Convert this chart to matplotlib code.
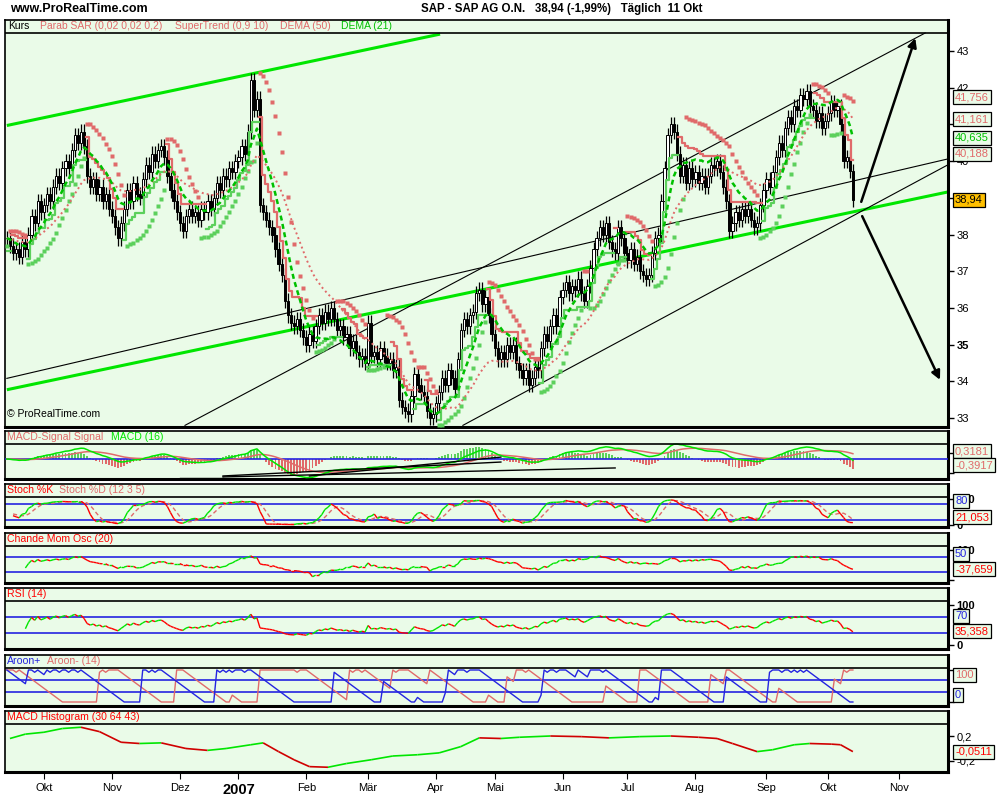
"""SAP daily chart with indicator panels, ProRealTime look."""

import matplotlib
matplotlib.use("Agg")
import matplotlib.pyplot as plt
import numpy as np
import pandas as pd
from matplotlib.collections import LineCollection

plt.rcParams["font.family"] = ["Liberation Sans", "DejaVu Sans"]

# daily closes
sep06 = [37.9, 37.7, 37.5, 37.6, 37.4, 37.8, 37.6, 38.0, 38.5, 38.3, 38.9, 38.6]
oct06 = [38.8, 39.1, 38.9, 39.3, 39.6, 39.4, 39.8, 40.0, 39.8, 40.3, 40.7, 40.5,
         40.8, 40.4, 39.6, 39.3, 39.5, 39.1, 39.3, 38.9, 39.1, 38.7]
nov06 = [38.5, 38.2, 37.9, 38.3, 38.7, 39.2, 38.9, 39.4, 39.1, 39.0, 39.5, 39.9,
         39.7, 40.2, 40.0, 40.3, 40.4, 40.1, 39.6, 39.2, 38.9, 38.6]
dec06 = [38.3, 38.1, 38.5, 38.7, 38.5, 38.6, 38.4, 38.7, 38.6, 38.9, 38.7, 39.0,
         39.4, 39.2, 39.6, 39.5, 39.8, 39.7, 40.0]
jan07 = [40.1, 40.4, 40.2, 40.8, 42.2, 41.4, 41.7, 38.8, 38.6, 38.4, 38.2, 38.0,
         37.6, 37.2, 36.9, 36.2, 35.8, 35.6, 35.5, 35.7, 35.4, 35.2]
feb07 = [35.0, 35.3, 35.1, 35.5, 35.8, 35.6, 35.9, 35.7, 36.0, 35.7, 35.4, 35.5,
         35.2, 35.3, 34.9, 35.1, 34.8, 34.6, 34.7, 34.5]
mar07 = [35.6, 34.7, 34.8, 34.6, 34.9, 34.7, 34.5, 34.6, 34.3, 34.4, 33.5, 33.3,
         33.2, 33.1, 33.6, 34.2, 33.9, 33.7, 33.6, 33.2, 33.0, 33.1]
apr07 = [33.4, 33.7, 34.1, 33.9, 34.3, 34.1, 33.8, 34.6, 35.4, 35.7, 35.5, 35.8,
         35.9, 36.4, 36.5, 36.1, 36.3, 35.8, 35.3]
may07 = [34.9, 34.6, 34.8, 34.6, 35.0, 34.8, 35.0, 34.5, 34.3, 34.1, 34.3, 33.9,
         34.1, 34.4, 34.3, 34.9, 35.3, 35.1, 35.5, 35.8, 35.5, 36.3]
jun07 = [36.5, 36.7, 36.4, 36.6, 36.5, 36.8, 36.4, 36.2, 36.6, 37.1, 37.6, 37.9,
         38.2, 38.0, 38.3, 37.8, 37.6, 37.5, 38.2, 37.9, 37.5]
jul07 = [37.3, 37.6, 37.2, 37.4, 37.0, 36.9, 36.8, 36.9, 37.5, 37.9, 38.0, 38.9,
         39.8, 40.7, 41.0, 40.8, 40.2, 39.6, 39.9, 39.4, 39.8, 39.5]
aug07 = [39.7, 39.4, 39.6, 39.3, 39.6, 39.9, 39.8, 40.0, 39.7, 39.3, 38.9, 38.1,
         38.3, 38.6, 38.4, 38.7, 38.5, 38.7, 38.4, 38.2, 38.3, 38.8, 39.2]
sep07 = [39.5, 39.3, 39.7, 40.1, 40.5, 40.3, 40.9, 41.2, 41.0, 41.5, 41.4, 41.8,
         41.7, 41.9, 41.5, 41.4, 41.1, 41.3, 40.9, 41.1]
oct07 = [41.3, 41.6, 41.4, 41.5, 41.0, 40.0, 40.1, 39.73, 38.94]

closes = (sep06 + oct06 + nov06 + dec06 + jan07 + feb07 + mar07 + apr07
          + may07 + jun07 + jul07 + aug07 + sep07 + oct07)
WICK = 0.2

holidays = ["2006-12-25", "2006-12-26", "2007-01-01", "2007-04-06",
            "2007-04-09", "2007-05-01"]
month_names = {1: "2007", 2: "Feb", 3: "Mär", 4: "Apr", 5: "Mai", 6: "Jun",
               7: "Jul", 8: "Aug", 9: "Sep", 10: "Okt", 11: "Nov", 12: "Dez"}

# MACD Histogram (30 64 43)
hist_idx = [1, 6, 12, 18, 24, 30, 37, 43, 50, 58, 65, 71, 79, 83, 88, 93, 98,
            104, 110, 118, 125, 133, 140, 147, 153, 160, 166, 176, 186, 195,
            205, 215, 224, 230, 235, 243, 248, 255, 260, 267, 270, 274]
hist_val = [0.16, 0.23, 0.26, 0.32, 0.34, 0.27, 0.10, 0.08, 0.09, 0.00, -0.03,
            0.00, 0.06, 0.09, -0.05, -0.18, -0.29, -0.30, -0.24, -0.18, -0.12,
            -0.10, -0.07, 0.03, 0.17, 0.16, 0.18, 0.20, 0.19, 0.17, 0.19, 0.20,
            0.18, 0.16, 0.08, -0.05, -0.02, 0.06, 0.08, 0.07, 0.06, -0.05]

# hand drawn lines on the price chart: (bar index, price)
green_lines = [[(0, 40.97), (140.3, 43.46)], [(0, 33.77), (304.8, 39.16)]]
black_lines = [[(0, 34.08), (304.8, 40.06)], [(57.7, 32.8), (297.4, 43.49)],
               [(147.7, 32.8), (304.8, 39.90)]]
arrows = [[(276.7, 38.89), (294.2, 43.35)], [(277.0, 38.50), (302.2, 34.04)]]
# hand drawn lines in the MACD panel: (bar index, value)
macd_lines = [[(56, -1.19), (70, -1.19)], [(70, -1.12), (197, -0.56)],
              [(70, -1.06), (160, -0.19)], [(98, -1.06), (160, 0.12)]]

W, H = 1000, 800
BG = "#eafbe8"
SALMON = "#e06a6a"
LGREEN = "#5cd05c"
RED = "#ff0000"
DRED = "#d00000"
BLUE = "#2424e0"
LIME = "#00e600"

c = pd.Series(closes, dtype=float)
n = len(c)
x = np.arange(n)
o = np.r_[c.iloc[0], c.values[:-1]]
hi = pd.Series(np.maximum(o, c.values) + WICK)
lo = pd.Series(np.minimum(o, c.values) - WICK)

alldays = pd.bdate_range("2006-09-14", "2007-11-30", freq="C", holidays=holidays)
mstart = [i for i in range(1, len(alldays)) if alldays[i].month != alldays[i - 1].month]


def ema(s, k):
    return s.ewm(span=k, adjust=False).mean()


def dema(s, k):
    e = ema(s, k)
    return 2 * e - ema(e, k)


def psar(h, l, af0=0.02, step=0.02, amax=0.2):
    h, l = np.asarray(h), np.asarray(l)
    sar = np.zeros(len(h))
    bull = np.ones(len(h), bool)
    up, af, ep = True, af0, h[0]
    sar[0] = l[0]
    for t in range(1, len(h)):
        s = sar[t - 1] + af * (ep - sar[t - 1])
        if up:
            s = min(s, l[t - 1], l[max(t - 2, 0)])
            if l[t] < s:
                up, s, ep, af = False, ep, l[t], af0
            elif h[t] > ep:
                ep, af = h[t], min(af + step, amax)
        else:
            s = max(s, h[t - 1], h[max(t - 2, 0)])
            if h[t] > s:
                up, s, ep, af = True, ep, h[t], af0
            elif l[t] < ep:
                ep, af = l[t], min(af + step, amax)
        sar[t], bull[t] = s, up
    return sar, bull


def supertrend(h, l, cl, mult, k):
    pc = cl.shift(1).fillna(cl.iloc[0])
    tr = pd.concat([h - l, (h - pc).abs(), (l - pc).abs()], axis=1).max(axis=1)
    atr = tr.ewm(alpha=1 / k, adjust=False).mean()
    mid = (h + l) / 2
    ub, lb = (mid + mult * atr).values, (mid - mult * atr).values
    cv = cl.values
    fu, fl = ub.copy(), lb.copy()
    trend = np.ones(len(cv), bool)
    for t in range(1, len(cv)):
        fu[t] = ub[t] if (ub[t] < fu[t - 1] or cv[t - 1] > fu[t - 1]) else fu[t - 1]
        fl[t] = lb[t] if (lb[t] > fl[t - 1] or cv[t - 1] < fl[t - 1]) else fl[t - 1]
        trend[t] = cv[t] >= fl[t] if trend[t - 1] else cv[t] > fu[t]
    return np.where(trend, fl, fu), trend


def trend_line(ax, xs, ys, lw=1.0, down=RED):
    pts = np.column_stack([xs, ys])
    segs = np.stack([pts[:-1], pts[1:]], axis=1)
    cols = np.where(np.diff(ys) >= 0, LIME, down)
    ax.add_collection(LineCollection(segs, colors=cols, linewidths=lw, zorder=3))


def panel(y0, y1, ya, va, yb, vb):
    ax = fig.add_axes([5 / W, 1 - y1 / H, 943 / W, (y1 - y0) / H])
    ax.set_facecolor(BG)
    k = (va - vb) / (ya - yb)
    ax.set_ylim(va + (y1 - ya) * k, va + (y0 - ya) * k)
    ax.axhline(va + (y0 + 13 - ya) * k, color="black", lw=1.2, zorder=6)
    ax.set_xlim(-0.6, 304.8)
    ax.set_xticks([])
    ax.yaxis.tick_right()
    ax.tick_params(axis="y", direction="out", length=4, width=1, labelsize=8, pad=2)
    for side in ("top", "left"):
        ax.spines[side].set_linewidth(1.2)
    for side in ("right", "bottom"):
        ax.spines[side].set_linewidth(2.2)
    return ax


def ftext(px, py, s, color="black", size=7.6, **kw):
    fig.text(px / W, 1 - py / H, s, color=color, fontsize=size, va="center", **kw)


def vbox(py, s, color, fc=BG):
    fig.text(955 / W, 1 - py / H, s, color=color, fontsize=8, va="center", ha="left",
             bbox=dict(boxstyle="square,pad=0.18", fc=fc, ec="black", lw=0.9))


fig = plt.figure(figsize=(W / 100, H / 100), dpi=100)

# ---- price panel
ax = panel(20, 427, 51, 43, 418, 33)
for (xa, pa), (xb, pb) in green_lines:
    ax.plot([xa, xb], [pa, pb], color=LIME, lw=2.2, zorder=2, solid_capstyle="butt")
for (xa, pa), (xb, pb) in black_lines:
    ax.plot([xa, xb], [pa, pb], color="black", lw=0.8, zorder=2)

upc = c.values >= o
ax.vlines(x, lo, hi, color="black", lw=0.9, zorder=3)
ax.bar(x[upc], (c.values - o)[upc], bottom=o[upc], width=0.75, color="white",
       edgecolor="black", lw=0.7, zorder=4)
ax.bar(x[~upc], (o - c.values)[~upc], bottom=c.values[~upc], width=0.75,
       color="black", edgecolor="black", lw=0.7, zorder=4)

sar, bull = psar(hi, lo)
ax.plot(x[bull], sar[bull], "s", ms=3.0, color=LGREEN, mec="none", zorder=5)
ax.plot(x[~bull], sar[~bull], "s", ms=3.0, color=SALMON, mec="none", zorder=5)

st, st_up = supertrend(hi, lo, c, 0.9, 10)
ax.plot(x, np.where(st_up, st, np.nan), color=LGREEN, lw=1.6, zorder=5,
        drawstyle="steps-mid")
ax.plot(x, np.where(~st_up, st, np.nan), color=SALMON, lw=1.6, zorder=5,
        drawstyle="steps-mid")
ax.plot(x, dema(c, 50), color=SALMON, lw=1.4, ls=(0, (1, 1.6)), zorder=5)
ax.plot(x, dema(c, 21), color="#00c000", lw=1.8, ls=(0, (2, 1.4)), zorder=5)

for (xa, pa), (xb, pb) in arrows:
    ax.annotate("", xy=(xb, pb), xytext=(xa, pa), zorder=7,
                arrowprops=dict(arrowstyle="-|>", color="black", lw=1.8,
                                mutation_scale=13, shrinkA=0, shrinkB=0))

ax.set_yticks(range(33, 44))
# labels under the value boxes (39, 41) are fully covered in the chart
ax.set_yticklabels(["" if v in (39, 41) else str(v) for v in range(33, 44)])
ax.get_yticklabels()[2].set_fontweight("bold")
ax.text(0.002, 0.02, "© ProRealTime.com", transform=ax.transAxes, fontsize=7.5,
        va="bottom", zorder=8)

# ---- MACD
axm = panel(431, 479, 459, 0, 443, 1.0)
macd = ema(c, 12) - ema(c, 26)
sig = ema(macd, 16)
dif = 1.5 * (macd - sig)
axm.bar(x, dif, width=0.6, color=np.where(dif >= 0, LGREEN, SALMON), zorder=2)
axm.axhline(0, color=BLUE, lw=1.2, zorder=3)
axm.plot(x, sig, color=SALMON, lw=1.1, zorder=4)
axm.plot(x, macd, color=LIME, lw=1.1, zorder=4)
for (xa, va), (xb, vb) in macd_lines:
    axm.plot([xa, xb], [va, vb], color="black", lw=1.0, zorder=5)
axm.set_yticks([0.4, -0.9])
axm.set_yticklabels(["", ""])

# ---- Stochastic
axs = panel(484, 527, 504, 80, 520, 20)
ll = lo.rolling(12, min_periods=1).min()
hh = hi.rolling(12, min_periods=1).max()
kraw = 100 * (c - ll) / (hh - ll)
kk = kraw.rolling(3, min_periods=1).mean()
dd = kk.rolling(5, min_periods=1).mean()
for lvl in (80, 20):
    axs.axhline(lvl, color=BLUE, lw=1.2, zorder=2)
axs.plot(x[2:], dd[2:], color=SALMON, lw=1.0, ls=(0, (3, 2)), zorder=3)
trend_line(axs, x[2:], kk.values[2:], 1.0)
axs.set_yticks([100, 0])
axs.set_yticklabels(["100", "0"], fontweight="bold")

# ---- Chande momentum
axc = panel(533, 583, 557, 50, 572, -50)
dc = c.diff().fillna(0)
su = dc.clip(lower=0).rolling(20, min_periods=1).sum()
sd = (-dc).clip(lower=0).rolling(20, min_periods=1).sum()
cmo = (100 * (su - sd) / (su + sd)).fillna(0)
for lvl in (50, -50):
    axc.axhline(lvl, color=BLUE, lw=1.2, zorder=2)
trend_line(axc, x[6:], cmo.values[6:], 1.0)
axc.set_yticks([100, -100])
axc.set_yticklabels(["100", ""], fontweight="bold")

# ---- RSI
axr = panel(588, 649, 617, 70, 633, 30)
gain = dc.clip(lower=0).ewm(alpha=1 / 14, adjust=False).mean()
loss = (-dc).clip(lower=0).ewm(alpha=1 / 14, adjust=False).mean()
rsi = (100 - 100 / (1 + gain / loss.replace(0, np.nan))).fillna(50)
for lvl in (70, 30):
    axr.axhline(lvl, color=BLUE, lw=1.2, zorder=2)
trend_line(axr, x[6:], rsi.values[6:], 1.0)
axr.set_yticks([100, 0])
axr.set_yticklabels(["100", "0"], fontweight="bold")

# ---- Aroon
axa = panel(655, 706, 670, 100, 702, 0)
since_hi = hi.rolling(15, min_periods=1).apply(lambda w: len(w) - 1 - np.argmax(w), raw=True)
since_lo = lo.rolling(15, min_periods=1).apply(lambda w: len(w) - 1 - np.argmin(w), raw=True)
ar_up = 100 * (14 - since_hi) / 14
ar_dn = 100 * (14 - since_lo) / 14
for lvl in (70, 30):
    axa.axhline(lvl, color=BLUE, lw=1.2, zorder=2)
axa.plot(x, ar_dn, color=SALMON, lw=1.0, zorder=3)
axa.plot(x, ar_up, color=BLUE, lw=1.0, zorder=3)
axa.set_yticks([100, 0])
axa.set_yticklabels(["", ""])

# ---- MACD histogram (30 64 43)
axh = panel(711, 772, 736, 0.2, 761, -0.2)
trend_line(axh, np.array(hist_idx), np.array(hist_val), 1.2, down=DRED)
axh.set_yticks([0.2, -0.2])
axh.set_yticklabels(["0,2", "-0,2"])
axh.set_xticks(mstart)
axh.set_xticklabels([month_names[alldays[i].month] for i in mstart])
axh.tick_params(axis="x", direction="out", length=5, labelsize=8, pad=3)
for t in axh.get_xticklabels():
    if t.get_text() == "2007":
        t.set_fontweight("bold")
        t.set_fontsize(10.5)

# ---- texts
ftext(10, 9, "www.ProRealTime.com", size=9, fontweight="bold")
ftext(421, 9, "SAP - SAP AG O.N.   38,94 (-1,99%)   Täglich  11 Okt", size=8.3,
      fontweight="bold")
ftext(8, 26, "Kurs", size=7.5)
ftext(40, 26, "Parab SAR (0,02 0,02 0,2)", SALMON, size=7.5)
ftext(175, 26, "SuperTrend (0,9 10)", SALMON, size=7.5)
ftext(280, 26, "DEMA (50)", SALMON, size=7.5)
ftext(341, 26, "DEMA (21)", "#00c000", size=7.5)
ftext(7, 437, "MACD-Signal Signal", SALMON)
ftext(111, 437, "MACD (16)", LIME)
ftext(7, 490, "Stoch %K", RED)
ftext(59, 490, "Stoch %D (12 3 5)", SALMON)
ftext(7, 539, "Chande Mom Osc (20)", RED)
ftext(7, 594, "RSI (14)", RED)
ftext(7, 661, "Aroon+", BLUE)
ftext(47, 661, "Aroon- (14)", SALMON)
ftext(7, 717, "MACD Histogram (30 64 43)", RED)

vbox(97, "41,756", SALMON)
vbox(119, "41,161", SALMON)
vbox(138, "40,635", "#00c000")
vbox(154, "40,188", SALMON)
vbox(200, "38,94", "black", fc="#ffc000")
vbox(451, "0,3181", SALMON)
vbox(465, "-0,3917", SALMON)
vbox(501, "80", BLUE)
vbox(517, "21,053", RED)
vbox(554, "50", BLUE)
vbox(569, "-37,659", RED)
vbox(616, "70", BLUE)
vbox(631, "35,358", RED)
vbox(675, "100", SALMON)
vbox(695, "0", BLUE)
vbox(752, "-0,0511", RED)

fig.savefig("out.png", dpi=100)
